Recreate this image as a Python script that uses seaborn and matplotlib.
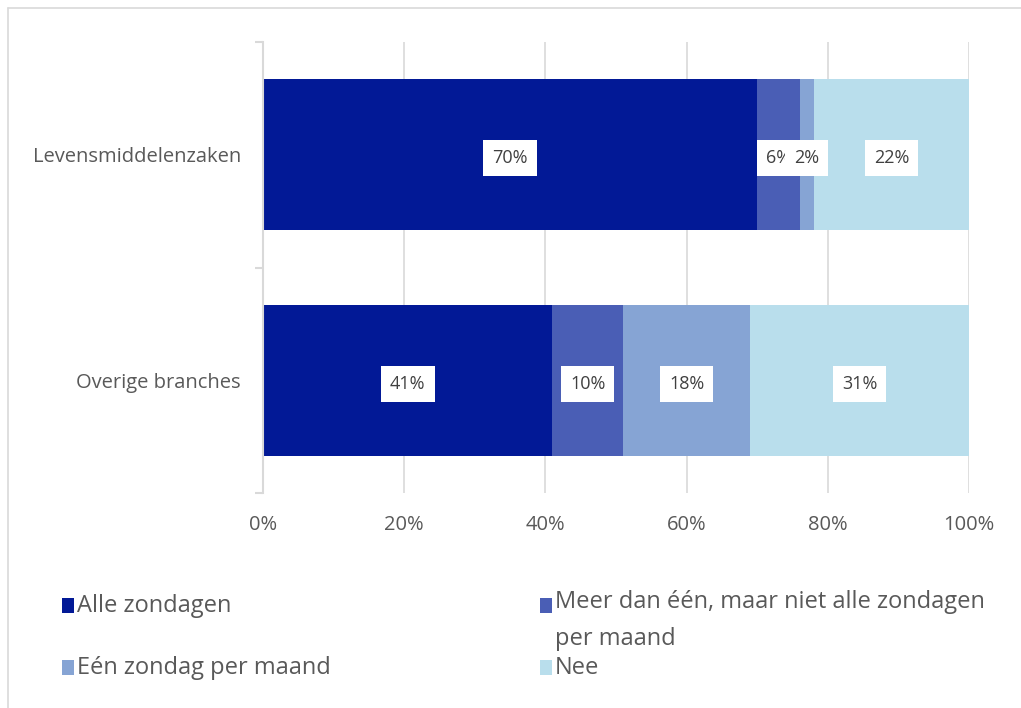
import matplotlib
matplotlib.use("Agg")
import matplotlib.pyplot as plt
from matplotlib.patches import Rectangle
from matplotlib.lines import Line2D
import seaborn as sns
import pandas as pd
import numpy as np

categories = ["Levensmiddelenzaken", "Overige branches"]
series_names = ["Alle zondagen", "Meer dan één, maar niet alle zondagen per maand",
                "Eén zondag per maand", "Nee"]
legend_labels = ["Alle zondagen", "Meer dan één, maar niet alle zondagen\nper maand",
                 "Eén zondag per maand", "Nee"]
alle = [70, 41]
meer = [6, 10]
een = [2, 18]
nee = [22, 31]
colors = ["#021996", "#4A5EB5", "#86A4D4", "#B9DEEC"]
xticks = [0, 20, 40, 60, 80, 100]
xticklabels = ["0%", "20%", "40%", "60%", "80%", "100%"]

sns.set_theme(style="white")
plt.rcParams["font.family"] = ["Open Sans", "DejaVu Sans"]
text_color = "#595959"

values = np.array([alle, meer, een, nee], dtype=float)
cum = values.cumsum(axis=0)

fig = plt.figure(figsize=(10.21, 7.08), dpi=100)
ax = fig.add_axes([263 / 1021, 1 - 493 / 708, (969 - 263) / 1021, (493 - 42) / 708])

# draw stacked bars: largest cumulative first
for i in range(len(series_names) - 1, -1, -1):
    df = pd.DataFrame({"cat": categories, "val": cum[i]})
    sns.barplot(data=df, x="val", y="cat", orient="h", color=colors[i],
                width=0.67, ax=ax, saturation=1, linewidth=0, zorder=2)

ax.set_xlim(0, 100)
ax.set_ylim(1.5, -0.5)
ax.set_xticks(xticks)
ax.set_xticklabels(xticklabels)
ax.set_xlabel("")
ax.set_ylabel("")
ax.grid(axis="x", color="#D9D9D9", linewidth=1.2, zorder=0)
ax.set_axisbelow(True)
for s in ["top", "right", "bottom"]:
    ax.spines[s].set_visible(False)
ax.spines["left"].set_color("#D9D9D9")
ax.spines["left"].set_linewidth(1.5)
ax.spines["left"].set_zorder(3)
ax.tick_params(axis="x", length=0, labelsize=14.5, labelcolor=text_color, pad=16)
ax.tick_params(axis="y", which="major", length=0, labelsize=14.5, labelcolor=text_color, pad=16)
ax.set_yticks([-0.5, 0.5, 1.5], minor=True)
ax.tick_params(axis="y", which="minor", length=6, color="#D9D9D9", width=1.5, left=True)

# data labels
for j in range(len(categories)):
    for i in range(len(series_names)):
        v = values[i, j]
        c = cum[i, j] - v / 2
        ax.text(c, j + 0.015, f"{int(v)}%", ha="center", va="center", fontsize=13,
                color="#404040", zorder=5,
                bbox=dict(boxstyle="square,pad=0.5", fc="white", ec="none"))

# legend (manual layout to match wrapped label)
leg_pos = [(62, 606), (540, 606), (62, 668), (540, 668)]
for (px, py), lab, col in zip(leg_pos, legend_labels, colors):
    fig.patches.append(Rectangle((px / 1021, 1 - (py + 7) / 708), 12 / 1021, 15 / 708,
                                 transform=fig.transFigure, fc=col, ec="none"))
    if "\n" not in lab:
        fig.text((px + 15) / 1021, 1 - py / 708, lab, ha="left", va="center",
                 fontsize=17, color=text_color)
    else:
        fig.text((px + 15) / 1021, 1 - (py - 16) / 708, lab, ha="left", va="top",
                 fontsize=17, color=text_color, linespacing=1.7)

# outer border (left and top)
fig.add_artist(Line2D([7.5 / 1021, 7.5 / 1021], [0, 1 - 7.5 / 708], transform=fig.transFigure,
                      color="#D9D9D9", linewidth=1.2))
fig.add_artist(Line2D([7.5 / 1021, 1], [1 - 7.5 / 708, 1 - 7.5 / 708], transform=fig.transFigure,
                      color="#D9D9D9", linewidth=1.2))

fig.savefig("out.png", dpi=100, facecolor="white")
